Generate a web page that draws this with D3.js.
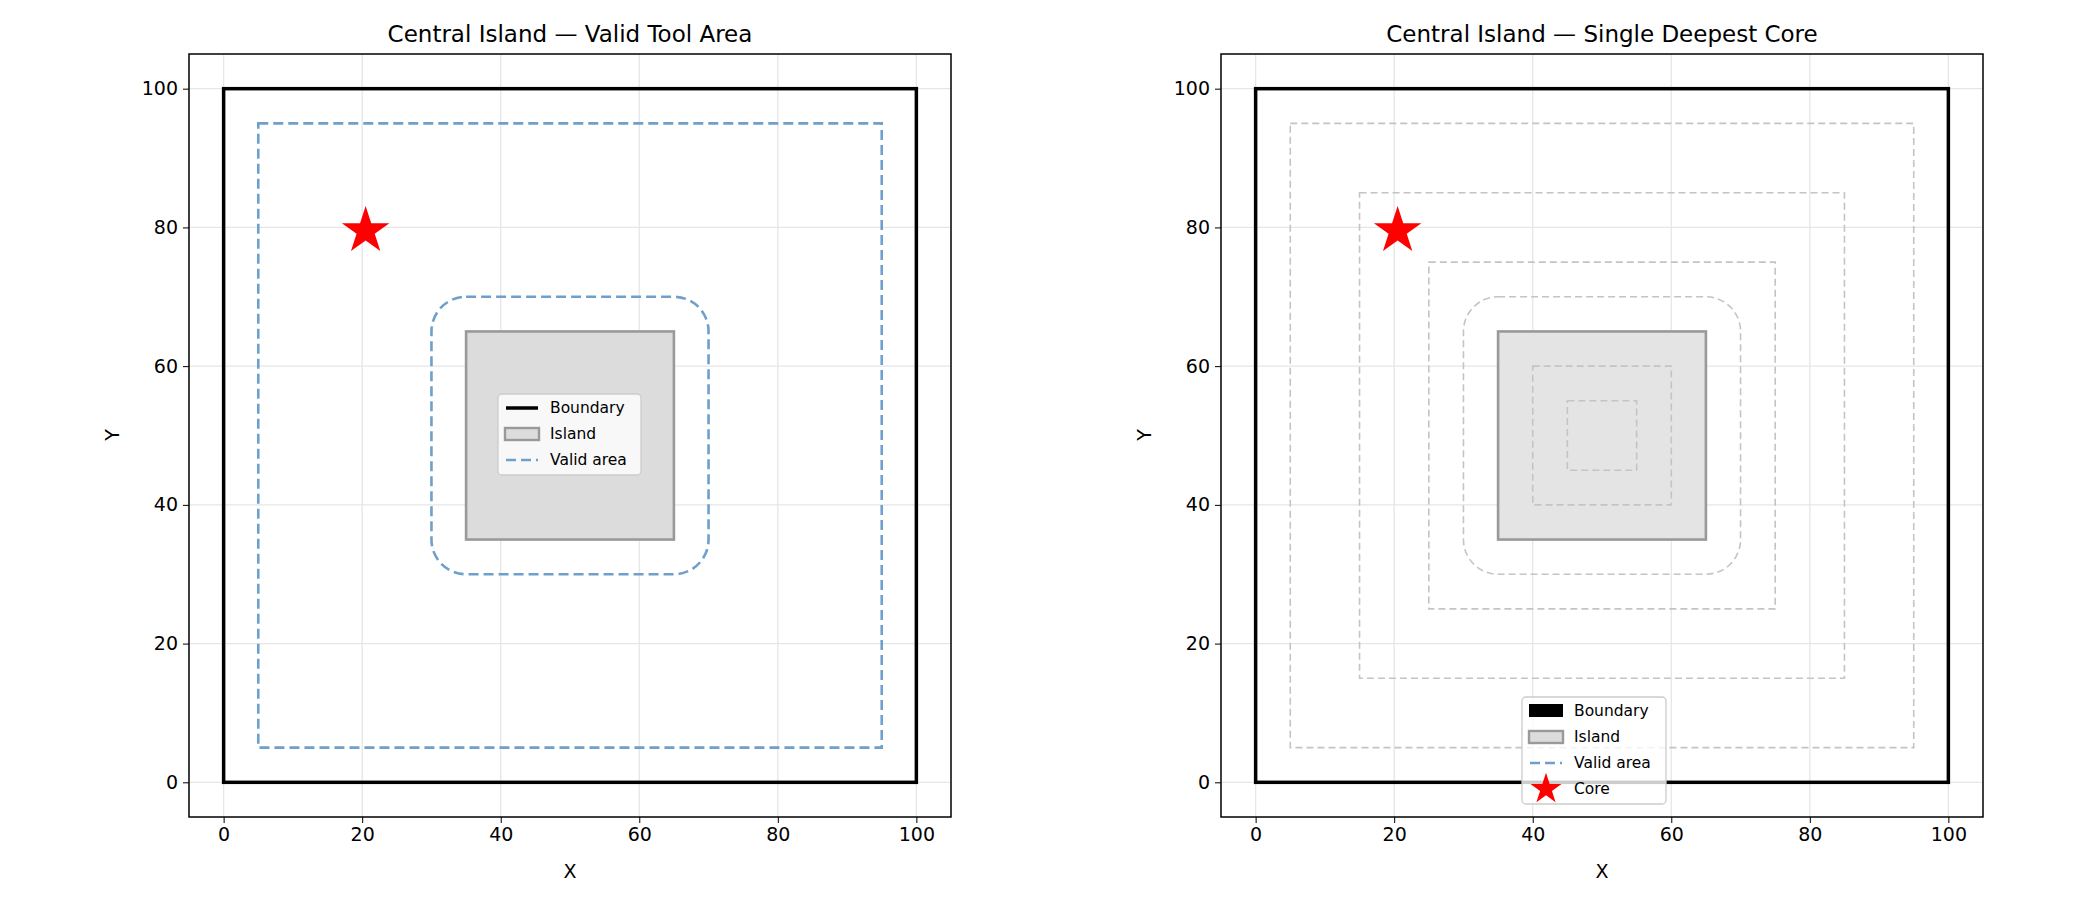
<!DOCTYPE html>
<html><head><meta charset="utf-8">
<script src="https://cdn.jsdelivr.net/npm/d3@7"></script>
<style>body{margin:0;background:#fff;font-family:"DejaVu Sans",sans-serif}</style>
</head><body><svg id="c" width="2100" height="900"></svg>
<script>
// data
var ticks = [0, 20, 40, 60, 80, 100];
var boundary = [0, 0, 100, 100];
var island = [35, 35, 65, 65];
var validOuter = [5, 5, 95, 95];
var validInner = [30, 30, 70, 70, 5]; // x0,y0,x1,y1,corner radius
var core = [20.5, 79.5];
var contours = [[5,5,95,95,0],[15,15,85,85,0],[25,25,75,75,0],[30,30,70,70,5],[40,40,60,60,0],[45,45,55,55,0]];

var svg = d3.select("#c");
var panels = [
  {left:189, title:"Central Island \u2014 Valid Tool Area", mode:"valid", legend:[498,394]},
  {left:1221, title:"Central Island \u2014 Single Deepest Core", mode:"core", legend:[1522,697]}
];

panels.forEach(function(p) {
  var x = d3.scaleLinear().domain([-5,105]).range([p.left, p.left+762]);
  var y = d3.scaleLinear().domain([-5,105]).range([817, 54]);
  var g = svg.append("g");

  // grid
  ticks.forEach(function(t) {
    g.append("line").attr("x1",x(t)).attr("x2",x(t)).attr("y1",54).attr("y2",817).attr("stroke","#e6e6e6").attr("stroke-width",1.3);
    g.append("line").attr("y1",y(t)).attr("y2",y(t)).attr("x1",p.left).attr("x2",p.left+762).attr("stroke","#e6e6e6").attr("stroke-width",1.3);
  });

  function rect(r, rad) {
    rad = rad || 0;
    return g.append("rect").attr("x",x(r[0])).attr("y",y(r[3]))
      .attr("width",x(r[2])-x(r[0])).attr("height",y(r[1])-y(r[3]))
      .attr("rx",x(rad)-x(0)).attr("fill","none");
  }

  if (p.mode == "valid") {
    rect(island).attr("fill","#dcdcdc").attr("stroke","#999").attr("stroke-width",2.6);
    rect(validOuter).attr("stroke","#6f9fcb").attr("stroke-width",2.6).attr("stroke-dasharray","10,5");
    rect(validInner, validInner[4]).attr("stroke","#6f9fcb").attr("stroke-width",2.6).attr("stroke-dasharray","10,5");
  } else {
    rect(island).attr("fill","#e4e4e4").attr("stroke","#999").attr("stroke-width",2.6);
    contours.forEach(function(c) {
      rect(c, c[4]).attr("stroke","#c4c4c4").attr("stroke-width",1.6).attr("stroke-dasharray","7,4");
    });
  }
  rect(boundary).attr("stroke","#000").attr("stroke-width",3.5);

  g.append("path").attr("d", d3.symbol(d3.symbolStar, 700)())
    .attr("transform","translate("+x(core[0])+","+y(core[1])+")").attr("fill","red");

  // axes
  g.append("g").attr("transform","translate(0,817)")
    .call(d3.axisBottom(x).tickValues(ticks).tickSize(6).tickPadding(5))
    .call(function(a){a.select(".domain").remove();a.selectAll("text").attr("font-size",19).attr("font-family","DejaVu Sans");});
  g.append("g").attr("transform","translate("+p.left+",0)")
    .call(d3.axisLeft(y).tickValues(ticks).tickSize(6).tickPadding(5))
    .call(function(a){a.select(".domain").remove();a.selectAll("text").attr("font-size",19).attr("font-family","DejaVu Sans");});
  g.append("rect").attr("x",p.left).attr("y",54).attr("width",762).attr("height",763).attr("fill","none").attr("stroke","#000").attr("stroke-width",1.5);

  g.append("text").attr("x",p.left+381).attr("y",42).attr("text-anchor","middle").attr("font-size",23).text(p.title);
  g.append("text").attr("x",p.left+381).attr("y",878).attr("text-anchor","middle").attr("font-size",19).text("X");
  g.append("text").attr("transform","translate("+(p.left-70)+",435) rotate(-90)").attr("text-anchor","middle").attr("font-size",19).text("Y");

  // legend
  var lx = p.legend[0], ly = p.legend[1];
  var items = p.mode == "valid" ? ["Boundary","Island","Valid area"] : ["Boundary","Island","Valid area","Core"];
  var lw = p.mode == "valid" ? 143 : 144;
  var lg = svg.append("g").attr("transform","translate("+lx+","+ly+")");
  lg.append("rect").attr("width",lw).attr("height",items.length*26+3).attr("rx",4)
    .attr("fill","rgba(255,255,255,0.8)").attr("stroke","#ccc").attr("stroke-width",1.3);
  items.forEach(function(name, i) {
    var cy = 14 + i*26;
    if (name == "Boundary") {
      if (p.mode == "valid") lg.append("line").attr("x1",8).attr("x2",40).attr("y1",cy).attr("y2",cy).attr("stroke","#000").attr("stroke-width",3.5);
      else lg.append("rect").attr("x",7).attr("y",cy-7).attr("width",34).attr("height",13).attr("fill","#000");
    } else if (name == "Island") {
      lg.append("rect").attr("x",7).attr("y",cy-6).attr("width",34).attr("height",12).attr("fill","#dcdcdc").attr("stroke","#999").attr("stroke-width",2.4);
    } else if (name == "Valid area") {
      lg.append("line").attr("x1",8).attr("x2",40).attr("y1",cy).attr("y2",cy).attr("stroke","#6f9fcb").attr("stroke-width",2.4).attr("stroke-dasharray","10,5");
    } else {
      lg.append("path").attr("d", d3.symbol(d3.symbolStar, 300)()).attr("transform","translate(24,"+cy+")").attr("fill","red");
    }
    lg.append("text").attr("x",52).attr("y",cy+5).attr("font-size",15.5).text(name);
  });
});
</script></body></html>
